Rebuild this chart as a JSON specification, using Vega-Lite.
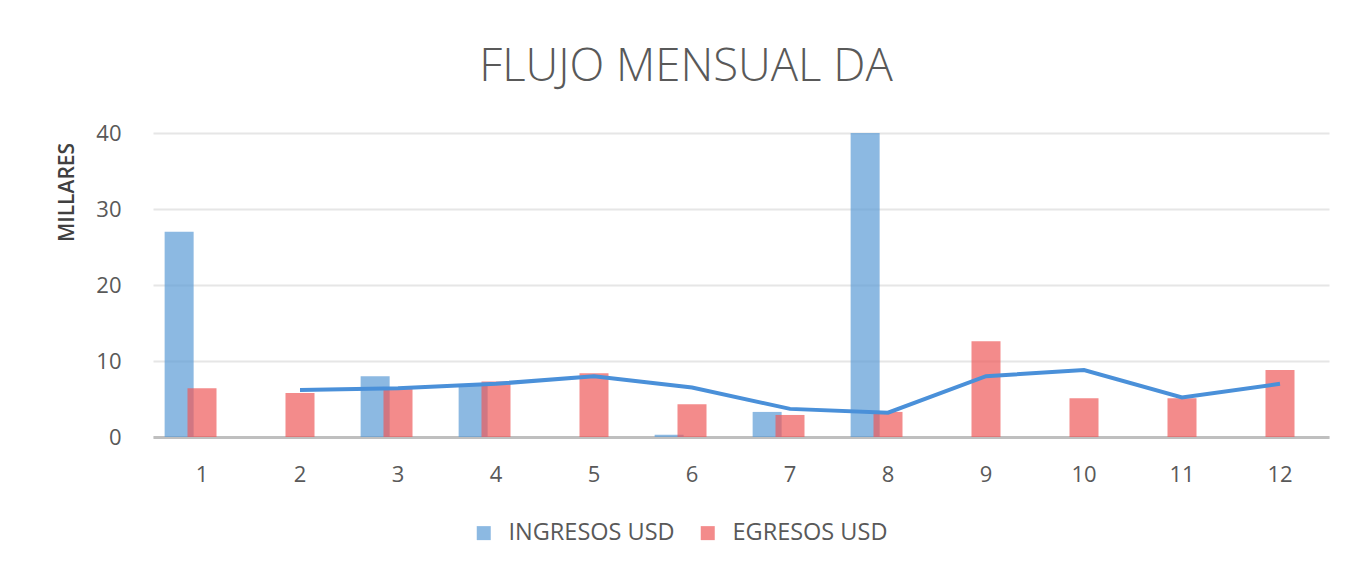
{
  "$schema": "https://vega.github.io/schema/vega-lite/v6.json",
  "width": 1176,
  "height": 304,
  "autosize": {"type": "none"},
  "padding": {"left": 153, "top": 133, "right": 23, "bottom": 136},
  "background": "white",
  "config": {"view": {"stroke": null}, "font": "Open Sans"},
  "title": {
    "text": "FLUJO MENSUAL DA",
    "font": "Open Sans",
    "fontSize": 45.5,
    "fontWeight": 300,
    "color": "#595959",
    "anchor": "middle",
    "frame": "group",
    "dx": -55,
    "offset": 32
  },
  "layer": [
    {
      "data": {
        "values": [
          {"mes": 1, "serie": "INGRESOS USD", "valor": 27.0},
          {"mes": 3, "serie": "INGRESOS USD", "valor": 8.0},
          {"mes": 4, "serie": "INGRESOS USD", "valor": 6.9},
          {"mes": 6, "serie": "INGRESOS USD", "valor": 0.3},
          {"mes": 7, "serie": "INGRESOS USD", "valor": 3.3},
          {"mes": 8, "serie": "INGRESOS USD", "valor": 40.0},
          {"mes": 1, "serie": "EGRESOS USD", "valor": 6.4},
          {"mes": 2, "serie": "EGRESOS USD", "valor": 5.8},
          {"mes": 3, "serie": "EGRESOS USD", "valor": 6.3},
          {"mes": 4, "serie": "EGRESOS USD", "valor": 7.3},
          {"mes": 5, "serie": "EGRESOS USD", "valor": 8.4},
          {"mes": 6, "serie": "EGRESOS USD", "valor": 4.3},
          {"mes": 7, "serie": "EGRESOS USD", "valor": 2.9},
          {"mes": 8, "serie": "EGRESOS USD", "valor": 3.3},
          {"mes": 9, "serie": "EGRESOS USD", "valor": 12.6},
          {"mes": 10, "serie": "EGRESOS USD", "valor": 5.1},
          {"mes": 11, "serie": "EGRESOS USD", "valor": 5.1},
          {"mes": 12, "serie": "EGRESOS USD", "valor": 8.8}
        ]
      },
      "mark": {"type": "bar", "opacity": 0.7, "width": 29},
      "encoding": {
        "x": {
          "field": "mes",
          "type": "ordinal",
          "scale": {"domain": [1, 2, 3, 4, 5, 6, 7, 8, 9, 10, 11, 12], "paddingInner": 0.3, "paddingOuter": 0.15},
          "axis": {
            "title": null,
            "labelAngle": 0,
            "ticks": false,
            "domainColor": "#BFBFBF",
            "domainWidth": 3,
            "labelFontSize": 22,
            "labelColor": "#595959",
            "labelPadding": 27,
            "grid": false
          }
        },
        "xOffset": {
          "field": "serie",
          "scale": {"domain": ["INGRESOS USD", "EGRESOS USD", "_"], "paddingInner": 0, "paddingOuter": 0}
        },
        "y": {
          "field": "valor",
          "type": "quantitative",
          "stack": null,
          "scale": {"domain": [0, 40]},
          "axis": {
            "values": [0, 10, 20, 30, 40],
            "domain": false,
            "ticks": false,
            "grid": true,
            "gridColor": "#E6E6E6",
            "gridWidth": 2,
            "labelFontSize": 22,
            "labelColor": "#595959",
            "labelPadding": 32,
            "title": "MILLARES",
            "titleFontSize": 21,
            "titleFontWeight": 600,
            "titleColor": "#404040",
            "titleAlign": "center",
            "titleBaseline": "middle",
            "titleX": -86,
            "titleY": 59
          }
        },
        "color": {
          "field": "serie",
          "type": "nominal",
          "scale": {"domain": ["INGRESOS USD", "EGRESOS USD"], "range": ["#5B9BD5", "#EE5A5A"]},
          "legend": {
            "title": null,
            "orient": "none",
            "legendX": 319,
            "legendY": 388,
            "direction": "horizontal",
            "symbolType": "square",
            "symbolSize": 196,
            "symbolOpacity": 0.7,
            "symbolStrokeWidth": 0,
            "labelFontSize": 23.5,
            "labelLimit": 400,
            "labelColor": "#595959",
            "labelOffset": 13,
            "columnPadding": 21
          }
        }
      }
    },
    {
      "data": {
        "values": [
          {"mes": 2, "promedio": 6.2},
          {"mes": 3, "promedio": 6.4},
          {"mes": 4, "promedio": 7.0},
          {"mes": 5, "promedio": 8.0},
          {"mes": 6, "promedio": 6.5},
          {"mes": 7, "promedio": 3.7},
          {"mes": 8, "promedio": 3.2},
          {"mes": 9, "promedio": 8.0},
          {"mes": 10, "promedio": 8.8},
          {"mes": 11, "promedio": 5.2},
          {"mes": 12, "promedio": 7.0}
        ]
      },
      "mark": {"type": "line", "color": "#4A90D9", "strokeWidth": 4},
      "encoding": {
        "x": {"field": "mes", "type": "ordinal"},
        "y": {"field": "promedio", "type": "quantitative"}
      }
    }
  ]
}
